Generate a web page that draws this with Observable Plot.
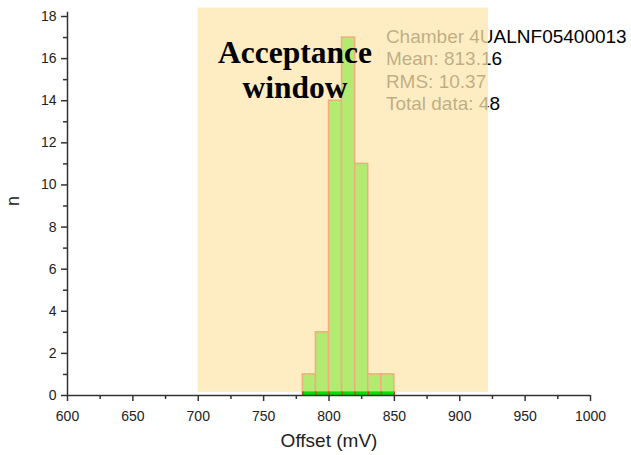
<!DOCTYPE html>
<html><head><meta charset="utf-8">
<script src="https://cdn.jsdelivr.net/npm/d3@7"></script>
<script src="https://cdn.jsdelivr.net/npm/@observablehq/plot@0.6"></script>
<style>body{margin:0;background:#fff}</style>
</head><body><div id="chart"></div>
<script>
// Histogram data
const binStarts = [780, 790, 800, 810, 820, 830, 840];
const binWidth = 10;
const counts = [1, 3, 14, 17, 11, 1, 1];
// Acceptance window
const windowRange = [700, 922];
const windowTop = 18.4;
// Axes
const xTicks = [600, 650, 700, 750, 800, 850, 900, 950, 1000];
const xMinorTicks = [625, 675, 725, 775, 825, 875, 925, 975];
const yTicks = [0, 2, 4, 6, 8, 10, 12, 14, 16, 18];
const yMinorTicks = [1, 3, 5, 7, 9, 11, 13, 15, 17];
const xLabel = "Offset (mV)";
const yLabel = "n";
// Annotations
const statsLines = ["Chamber 4UALNF05400013", "Mean: 813.16", "RMS: 10.37", "Total data: 48"];
const statsAnchor = {x: 843.5, y: 17.5};
const annotationLines = ["Acceptance", "window"];
const annotationAnchor = {x: 774, y: 16.97};

const bars = binStarts.map((s, i) => ({x1: s, x2: s + binWidth, n: counts[i]}));
const edges = [...binStarts, binStarts[binStarts.length - 1] + binWidth];

const chart = Plot.plot({
  width: 631,
  height: 455,
  marginLeft: 67,
  marginRight: 41,
  marginTop: 16,
  marginBottom: 60,
  x: {domain: [600, 1000]},
  y: {domain: [0, 18]},
  style: {fontFamily: "'Liberation Sans', Arial, sans-serif", fontSize: "14px", color: "#222", background: "#fff"},
  marks: [
    // stats text, partially covered by the translucent window
    Plot.text([statsLines.join("\n")], {
      x: () => statsAnchor.x, y: () => statsAnchor.y,
      text: d => d, textAnchor: "start", lineAnchor: "top",
      fontSize: 19, lineHeight: 1.18, fill: "#000"
    }),
    Plot.rect([windowRange], {
      x1: d => d[0], x2: d => d[1], y1: 0.15, y2: windowTop,
      fill: "#fee7af", fillOpacity: 0.75
    }),
    Plot.rectY(bars, {
      x1: "x1", x2: "x2", y1: 0, y2: "n",
      fill: "#b2ea72", stroke: "#f2ac7c", strokeWidth: 1.5
    }),
    Plot.rectY(bars, {
      x1: "x1", x2: "x2", y1: 0, y2: 0.17, fill: "#00e000"
    }),
    Plot.ruleX(edges, {y1: 0, y2: 0.17, stroke: "#d04020", strokeWidth: 1.5}),
    Plot.text([annotationLines.join("\n")], {
      x: () => annotationAnchor.x, y: () => annotationAnchor.y,
      text: d => d, lineAnchor: "top",
      fontSize: 31.5, lineHeight: 1.11, fontWeight: "bold",
      fontFamily: "'Liberation Serif', 'DejaVu Serif', serif", fill: "#000"
    }),
    // axes
    Plot.axisX({ticks: xTicks, tickSize: 6, tickPadding: 10, tickFormat: d => String(d), label: null, stroke: "#333", strokeWidth: 1.5, fontSize: 14}),
    Plot.axisX({ticks: xMinorTicks, tickSize: 4, text: null, label: null, stroke: "#333", strokeWidth: 1.5}),
    Plot.axisY({ticks: yTicks, tickSize: 6, tickPadding: 5, label: null, stroke: "#333", strokeWidth: 1.5, fontSize: 14}),
    Plot.axisY({ticks: yMinorTicks, tickSize: 4, text: null, label: null, stroke: "#333", strokeWidth: 1.5}),
    Plot.ruleY([0], {x1: 600, x2: 1000, stroke: "#333", strokeWidth: 1.5}),
    Plot.ruleX([600], {y1: 0, y2: 18.2, stroke: "#333", strokeWidth: 1.5}),
    Plot.text([xLabel], {frameAnchor: "bottom", dy: 45, text: d => d, fontSize: 19, lineAnchor: "middle", fill: "#222"}),
    Plot.text([yLabel], {frameAnchor: "left", dx: -54, text: d => d, fontSize: 18, rotate: -90, fill: "#222"})
  ]
});
document.getElementById("chart").appendChild(chart);
</script>
</body></html>
